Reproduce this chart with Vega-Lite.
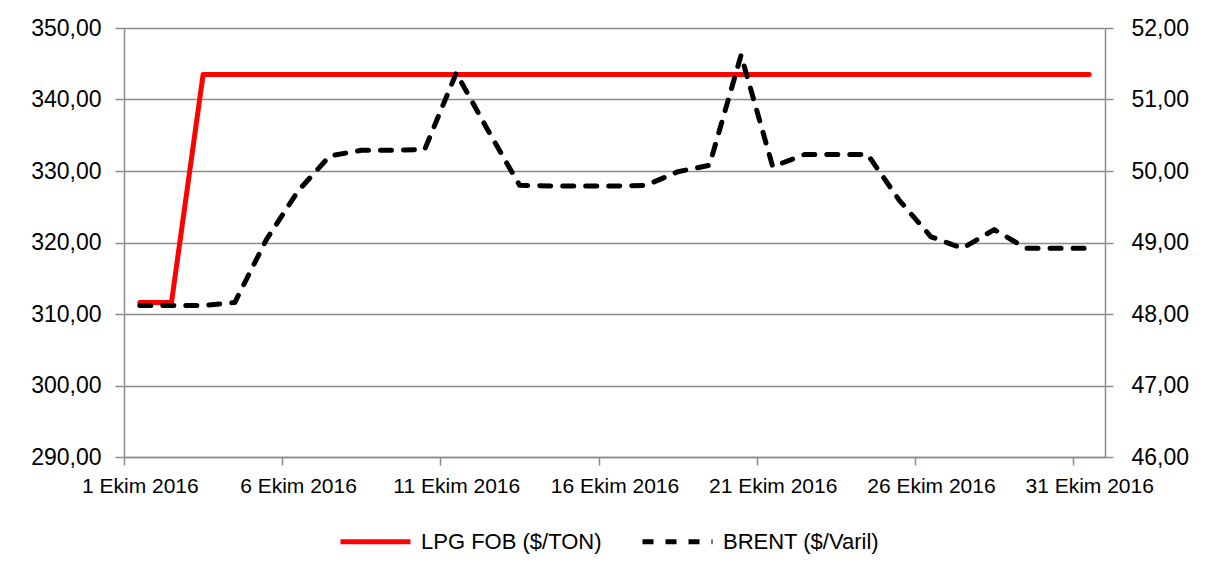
{
  "$schema": "https://vega.github.io/schema/vega-lite/v6.json",
  "width": 981,
  "height": 429,
  "autosize": "none",
  "padding": {"left": 124, "top": 28, "right": 103, "bottom": 125},
  "background": "white",
  "data": {
    "values": [
      {"date": "2016-10-01T12:00:00", "series": "LPG FOB ($/TON)", "value": 311.6},
      {"date": "2016-10-02T12:00:00", "series": "LPG FOB ($/TON)", "value": 311.6},
      {"date": "2016-10-03T12:00:00", "series": "LPG FOB ($/TON)", "value": 343.5},
      {"date": "2016-10-04T12:00:00", "series": "LPG FOB ($/TON)", "value": 343.5},
      {"date": "2016-10-05T12:00:00", "series": "LPG FOB ($/TON)", "value": 343.5},
      {"date": "2016-10-06T12:00:00", "series": "LPG FOB ($/TON)", "value": 343.5},
      {"date": "2016-10-07T12:00:00", "series": "LPG FOB ($/TON)", "value": 343.5},
      {"date": "2016-10-08T12:00:00", "series": "LPG FOB ($/TON)", "value": 343.5},
      {"date": "2016-10-09T12:00:00", "series": "LPG FOB ($/TON)", "value": 343.5},
      {"date": "2016-10-10T12:00:00", "series": "LPG FOB ($/TON)", "value": 343.5},
      {"date": "2016-10-11T12:00:00", "series": "LPG FOB ($/TON)", "value": 343.5},
      {"date": "2016-10-12T12:00:00", "series": "LPG FOB ($/TON)", "value": 343.5},
      {"date": "2016-10-13T12:00:00", "series": "LPG FOB ($/TON)", "value": 343.5},
      {"date": "2016-10-14T12:00:00", "series": "LPG FOB ($/TON)", "value": 343.5},
      {"date": "2016-10-15T12:00:00", "series": "LPG FOB ($/TON)", "value": 343.5},
      {"date": "2016-10-16T12:00:00", "series": "LPG FOB ($/TON)", "value": 343.5},
      {"date": "2016-10-17T12:00:00", "series": "LPG FOB ($/TON)", "value": 343.5},
      {"date": "2016-10-18T12:00:00", "series": "LPG FOB ($/TON)", "value": 343.5},
      {"date": "2016-10-19T12:00:00", "series": "LPG FOB ($/TON)", "value": 343.5},
      {"date": "2016-10-20T12:00:00", "series": "LPG FOB ($/TON)", "value": 343.5},
      {"date": "2016-10-21T12:00:00", "series": "LPG FOB ($/TON)", "value": 343.5},
      {"date": "2016-10-22T12:00:00", "series": "LPG FOB ($/TON)", "value": 343.5},
      {"date": "2016-10-23T12:00:00", "series": "LPG FOB ($/TON)", "value": 343.5},
      {"date": "2016-10-24T12:00:00", "series": "LPG FOB ($/TON)", "value": 343.5},
      {"date": "2016-10-25T12:00:00", "series": "LPG FOB ($/TON)", "value": 343.5},
      {"date": "2016-10-26T12:00:00", "series": "LPG FOB ($/TON)", "value": 343.5},
      {"date": "2016-10-27T12:00:00", "series": "LPG FOB ($/TON)", "value": 343.5},
      {"date": "2016-10-28T12:00:00", "series": "LPG FOB ($/TON)", "value": 343.5},
      {"date": "2016-10-29T12:00:00", "series": "LPG FOB ($/TON)", "value": 343.5},
      {"date": "2016-10-30T12:00:00", "series": "LPG FOB ($/TON)", "value": 343.5},
      {"date": "2016-10-31T12:00:00", "series": "LPG FOB ($/TON)", "value": 343.5},
      {"date": "2016-10-01T12:00:00", "series": "BRENT ($/Varil)", "value": 48.12},
      {"date": "2016-10-02T12:00:00", "series": "BRENT ($/Varil)", "value": 48.12},
      {"date": "2016-10-03T12:00:00", "series": "BRENT ($/Varil)", "value": 48.12},
      {"date": "2016-10-04T12:00:00", "series": "BRENT ($/Varil)", "value": 48.16},
      {"date": "2016-10-05T12:00:00", "series": "BRENT ($/Varil)", "value": 49.04},
      {"date": "2016-10-06T12:00:00", "series": "BRENT ($/Varil)", "value": 49.72},
      {"date": "2016-10-07T12:00:00", "series": "BRENT ($/Varil)", "value": 50.21},
      {"date": "2016-10-08T12:00:00", "series": "BRENT ($/Varil)", "value": 50.29},
      {"date": "2016-10-09T12:00:00", "series": "BRENT ($/Varil)", "value": 50.29},
      {"date": "2016-10-10T12:00:00", "series": "BRENT ($/Varil)", "value": 50.3},
      {"date": "2016-10-11T12:00:00", "series": "BRENT ($/Varil)", "value": 51.37},
      {"date": "2016-10-12T12:00:00", "series": "BRENT ($/Varil)", "value": 50.57},
      {"date": "2016-10-13T12:00:00", "series": "BRENT ($/Varil)", "value": 49.8},
      {"date": "2016-10-14T12:00:00", "series": "BRENT ($/Varil)", "value": 49.79},
      {"date": "2016-10-15T12:00:00", "series": "BRENT ($/Varil)", "value": 49.79},
      {"date": "2016-10-16T12:00:00", "series": "BRENT ($/Varil)", "value": 49.79},
      {"date": "2016-10-17T12:00:00", "series": "BRENT ($/Varil)", "value": 49.8},
      {"date": "2016-10-18T12:00:00", "series": "BRENT ($/Varil)", "value": 49.99},
      {"date": "2016-10-19T12:00:00", "series": "BRENT ($/Varil)", "value": 50.08},
      {"date": "2016-10-20T12:00:00", "series": "BRENT ($/Varil)", "value": 51.62},
      {"date": "2016-10-21T12:00:00", "series": "BRENT ($/Varil)", "value": 50.06},
      {"date": "2016-10-22T12:00:00", "series": "BRENT ($/Varil)", "value": 50.23},
      {"date": "2016-10-23T12:00:00", "series": "BRENT ($/Varil)", "value": 50.23},
      {"date": "2016-10-24T12:00:00", "series": "BRENT ($/Varil)", "value": 50.23},
      {"date": "2016-10-25T12:00:00", "series": "BRENT ($/Varil)", "value": 49.59},
      {"date": "2016-10-26T12:00:00", "series": "BRENT ($/Varil)", "value": 49.08},
      {"date": "2016-10-27T12:00:00", "series": "BRENT ($/Varil)", "value": 48.92},
      {"date": "2016-10-28T12:00:00", "series": "BRENT ($/Varil)", "value": 49.18},
      {"date": "2016-10-29T12:00:00", "series": "BRENT ($/Varil)", "value": 48.92},
      {"date": "2016-10-30T12:00:00", "series": "BRENT ($/Varil)", "value": 48.92},
      {"date": "2016-10-31T12:00:00", "series": "BRENT ($/Varil)", "value": 48.92}
    ]
  },
  "encoding": {
    "x": {
      "field": "date",
      "type": "temporal",
      "scale": {
        "domain": [
          {"year": 2016, "month": 10, "date": 1},
          {"year": 2016, "month": 11, "date": 1}
        ]
      },
      "axis": {
        "title": null,
        "values": [
          {"year": 2016, "month": 10, "date": 1},
          {"year": 2016, "month": 10, "date": 6},
          {"year": 2016, "month": 10, "date": 11},
          {"year": 2016, "month": 10, "date": 16},
          {"year": 2016, "month": 10, "date": 21},
          {"year": 2016, "month": 10, "date": 26},
          {"year": 2016, "month": 10, "date": 31}
        ],
        "format": "%-d Ekim %Y",
        "labelOffset": 15.8,
        "labelFontSize": 21,
        "labelPadding": 10,
        "tickSize": 8,
        "grid": false,
        "labelOverlap": false,
        "labelFlush": false
      }
    },
    "color": {
      "field": "series",
      "type": "nominal",
      "scale": {
        "domain": ["LPG FOB ($/TON)", "BRENT ($/Varil)"],
        "range": ["#ff0000", "#000000"]
      },
      "legend": {
        "title": null,
        "orient": "none",
        "legendX": 214,
        "legendY": 476,
        "direction": "horizontal",
        "symbolType": "stroke",
        "symbolSize": 4900,
        "symbolStrokeWidth": 5,
        "labelFontSize": 22,
        "labelColor": "#000000",
        "labelOffset": 8,
        "labelLimit": 0,
        "columnPadding": 30
      }
    },
    "strokeDash": {
      "field": "series",
      "type": "nominal",
      "scale": {
        "domain": ["LPG FOB ($/TON)", "BRENT ($/Varil)"],
        "range": [[1, 0], [11, 12]]
      },
      "legend": {
        "title": null,
        "orient": "none",
        "legendX": 214,
        "legendY": 476,
        "direction": "horizontal",
        "symbolType": "stroke",
        "symbolSize": 4900,
        "symbolStrokeWidth": 5,
        "labelFontSize": 22,
        "labelColor": "#000000",
        "labelOffset": 8,
        "labelLimit": 0,
        "columnPadding": 30
      }
    }
  },
  "layer": [
    {
      "transform": [{"filter": "datum.series === 'LPG FOB ($/TON)'"}],
      "mark": {"type": "line", "strokeWidth": 5, "strokeCap": "round", "strokeJoin": "round"},
      "encoding": {
        "y": {
          "field": "value",
          "type": "quantitative",
          "scale": {"domain": [290, 350], "zero": false, "nice": false},
          "axis": {
            "title": null,
            "orient": "left",
            "values": [290, 300, 310, 320, 330, 340, 350],
            "labelExpr": "replace(format(datum.value, '.2f'), '.', ',')",
            "grid": true,
            "tickSize": 9,
            "labelPadding": 14,
            "labelFontSize": 23
          }
        }
      }
    },
    {
      "transform": [{"filter": "datum.series === 'BRENT ($/Varil)'"}],
      "mark": {"type": "line", "strokeWidth": 5, "strokeCap": "round", "strokeJoin": "round"},
      "encoding": {
        "y": {
          "field": "value",
          "type": "quantitative",
          "scale": {"domain": [46, 52], "zero": false, "nice": false},
          "axis": {
            "title": null,
            "orient": "right",
            "values": [46, 47, 48, 49, 50, 51, 52],
            "labelExpr": "replace(format(datum.value, '.2f'), '.', ',')",
            "grid": false,
            "tickSize": 8,
            "labelPadding": 18,
            "labelFontSize": 23
          }
        }
      }
    }
  ],
  "resolve": {"scale": {"y": "independent"}},
  "config": {
    "font": "Liberation Sans",
    "view": {"stroke": null},
    "axis": {
      "domainColor": "#8c8c8c",
      "domainWidth": 1.5,
      "tickColor": "#8c8c8c",
      "tickWidth": 1.5,
      "gridColor": "#8c8c8c",
      "gridWidth": 1.5,
      "gridOpacity": 1,
      "labelColor": "#000000",
      "labelFont": "Liberation Sans"
    },
    "legend": {"labelFont": "Liberation Sans"}
  }
}
